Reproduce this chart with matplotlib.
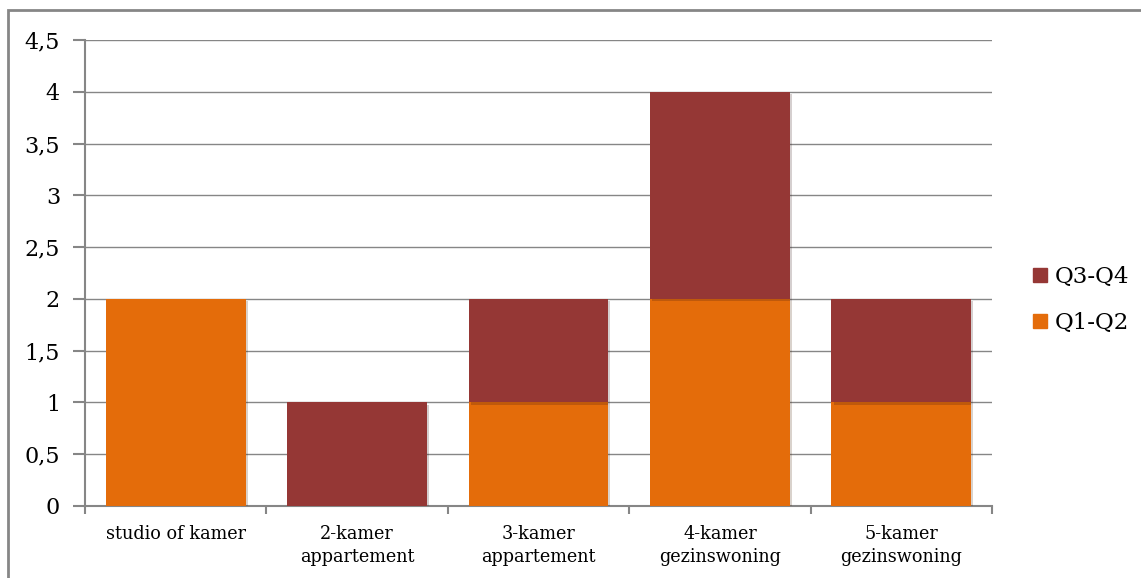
import matplotlib.pyplot as plt
import matplotlib.patheffects as pe
from matplotlib.patches import Rectangle
import numpy as np

plt.rcParams['font.family'] = ['DejaVu Serif']

categories = ['studio of kamer', '2-kamer\nappartement', '3-kamer\nappartement',
              '4-kamer\ngezinswoning', '5-kamer\ngezinswoning']
q1_q2 = [2, 0, 1, 2, 1]
q3_q4 = [0, 1, 1, 2, 1]
y_ticks = [0, 0.5, 1, 1.5, 2, 2.5, 3, 3.5, 4, 4.5]
y_labels = ['0', '0,5', '1', '1,5', '2', '2,5', '3', '3,5', '4', '4,5']

orange = '#E46C0A'
darkred = '#953735'
grey = '#868686'

fig = plt.figure(figsize=(11.41, 5.78), dpi=100)
ax = fig.add_axes([85 / 1141, 1 - 506 / 578, (992 - 85) / 1141, (506 - 40) / 578])

# outer chart frame, running off the right and bottom edges
fig.patches.append(Rectangle((8 / 1141, -0.05), 1.1, 1 - 10 / 578 + 0.05,
                             transform=fig.transFigure, fill=False,
                             edgecolor=grey, linewidth=2))

x = np.arange(len(categories))
shadow = [pe.SimplePatchShadow(offset=(1.5, -1.5), alpha=0.2), pe.Normal()]
b1 = ax.bar(x, q1_q2, width=0.77, color=orange, label='Q1-Q2', zorder=3)
b2 = ax.bar(x, q3_q4, width=0.77, bottom=q1_q2, color=darkred, label='Q3-Q4', zorder=3)
for bar in list(b1) + list(b2):
    bar.set_path_effects(shadow)

ax.set_xlim(-0.5, len(categories) - 0.5)
ax.set_ylim(0, 4.5)
ax.set_yticks(y_ticks)
ax.set_yticklabels(y_labels, fontsize=16)
ax.yaxis.grid(True, color=grey, linewidth=1)
ax.set_axisbelow(True)

# category labels between the boundary ticks
ax.set_xticks(np.arange(len(categories) + 1) - 0.5)
ax.set_xticklabels([])
ax.set_xticks(x, minor=True)
ax.set_xticklabels(categories, minor=True, fontsize=12.7, linespacing=1.3)
ax.tick_params(axis='x', which='minor', length=0, pad=14)
ax.tick_params(axis='x', which='major', length=6, color=grey, width=1.5)
ax.tick_params(axis='y', length=9, color=grey, width=1.5, pad=9)

for side in ['top', 'right']:
    ax.spines[side].set_visible(False)
for side in ['left', 'bottom']:
    ax.spines[side].set_color(grey)
    ax.spines[side].set_linewidth(1.5)

handles = [Rectangle((0, 0), 1, 1, color=darkred), Rectangle((0, 0), 1, 1, color=orange)]
fig.legend(handles, ['Q3-Q4', 'Q1-Q2'], loc='center left',
           bbox_to_anchor=(1033 / 1141, 1 - 300 / 578), frameon=False,
           borderpad=0, borderaxespad=0,
           fontsize=16.5, handlelength=0.6, handleheight=0.6, handletextpad=0.35,
           labelspacing=1.05)

fig.savefig('out.png', dpi=100)
